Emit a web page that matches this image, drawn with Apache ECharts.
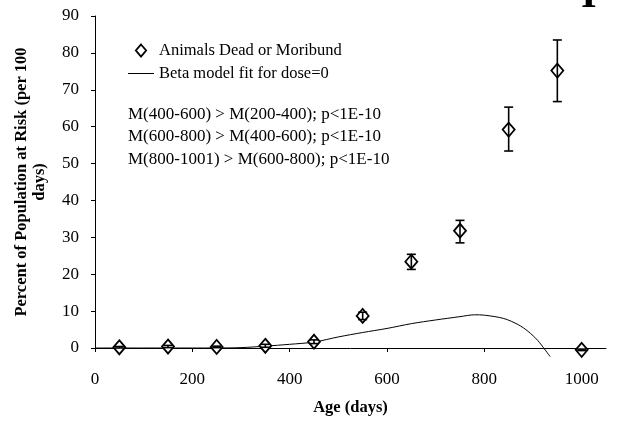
<!DOCTYPE html>
<html>
<head>
  <meta charset="UTF-8">
  <title>Percent of population at risk by age</title>
  <script src="https://cdn.jsdelivr.net/npm/echarts@6/dist/echarts.min.js"></script>
  <style>
    html, body { margin: 0; padding: 0; background: #fff; }
    #chart { width: 617px; height: 421px; }
  </style>
</head>
<body>
  <div id="chart"></div>
  <script>
    // observed points (age mid-point, percent) with error limits
    var ages = [50, 150, 250, 350, 450, 550, 650, 750, 850, 950, 1000];
    var percent = [0.2, 0.4, 0.3, 0.6, 1.7, 8.7, 23.4, 31.8, 59.2, 75.2, -0.5];
    var lower = [0.0, 0.1, 0.1, 0.2, 1.2, 7.7, 21.3, 28.5, 53.4, 66.8, -0.7];
    var upper = [0.4, 0.7, 0.5, 1.0, 2.2, 9.7, 25.4, 34.6, 65.3, 83.5, -0.3];

    // beta model fit for dose=0
    var fitAge = [0, 100, 200, 250, 300, 350, 400, 450, 500, 550, 600, 650, 700, 750, 780, 800, 840, 870, 890, 910, 935];
    var fitVal = [0, 0, 0, 0, 0.1, 0.5, 1.0, 1.6, 3.0, 4.2, 5.3, 6.6, 7.6, 8.5, 9.0, 8.9, 8.0, 6.3, 4.5, 2.0, -2.3];

    var xTicks = [0, 200, 400, 600, 800, 1000];
    var notes = [
      'M(400-600) > M(200-400); p<1E-10',
      'M(600-800) > M(400-600); p<1E-10',
      'M(800-1001) > M(600-800); p<1E-10'
    ];

    var serif = '"Liberation Serif", "DejaVu Serif", serif';
    var chart = echarts.init(document.getElementById('chart'));

    var pts = ages.map(function (a, i) { return [a, percent[i]]; });
    var bars = ages.map(function (a, i) { return [a, lower[i], upper[i]]; });
    var fit = fitAge.map(function (a, i) { return [a, fitVal[i]]; });

    chart.setOption({
      animation: false,
      textStyle: { fontFamily: serif, color: '#000' },
      title: {
        text: notes.join('\n'),
        left: 123, top: 98,
        textStyle: { fontFamily: serif, fontSize: 17, fontWeight: 'normal', color: '#000', lineHeight: 22.5 }
      },
      legend: {
        data: [
          {
            name: 'Animals Dead or Moribund',
            icon: 'path://M6,0L12,7L6,14L0,7Z',
            itemStyle: { color: '#fff', borderColor: '#000', borderWidth: 1.8 }
          },
          {
            name: 'Beta model fit for dose=0',
            icon: 'path://M0,0L26,0L26,1L0,1Z',
            itemStyle: { color: '#000', borderWidth: 0 }
          }
        ],
        orient: 'vertical',
        left: 123, top: 37,
        itemWidth: 26, itemHeight: 12, itemGap: 6,
        symbolKeepAspect: true,
        textStyle: { fontFamily: serif, fontSize: 16.5, color: '#000' }
      },
      grid: { left: 95, right: 11, top: 16, bottom: 73 },
      xAxis: {
        type: 'value', min: 0, max: 1050,
        name: 'Age (days)', nameLocation: 'middle', nameGap: 51,
        nameTextStyle: { fontFamily: serif, fontSize: 16.5, fontWeight: 'bold', color: '#000' },
        axisLine: { lineStyle: { color: '#000', width: 1 } },
        axisTick: { length: 4, customValues: xTicks, lineStyle: { color: '#000' } },
        axisLabel: {
          customValues: xTicks, fontSize: 17, margin: 23, color: '#000', fontFamily: serif,
          formatter: function (v) { return String(v); }
        },
        splitLine: { show: false }
      },
      yAxis: {
        type: 'value', min: 0, max: 90, interval: 10,
        name: 'Percent of Population at Risk (per 100\ndays)',
        nameLocation: 'middle', nameGap: 46, nameRotate: 90,
        nameTextStyle: { fontFamily: serif, fontSize: 16.5, fontWeight: 'bold', color: '#000', lineHeight: 18 },
        axisLine: { show: true, lineStyle: { color: '#000', width: 1 } },
        axisTick: { show: true, length: 4, lineStyle: { color: '#000' } },
        axisLabel: { fontSize: 17, margin: 16, color: '#000', fontFamily: serif },
        splitLine: { show: false }
      },
      graphic: [{
        type: 'text', left: 581, top: -23,
        style: { text: 'I', font: 'bold 40px ' + serif, fill: '#000' }
      }],
      series: [
        {
          name: 'Beta model fit for dose=0',
          type: 'line',
          data: fit,
          clip: false,
          smooth: 0.3,
          showSymbol: false,
          symbol: 'none',
          lineStyle: { color: '#000', width: 1 },
          itemStyle: { color: '#000' },
          z: 2
        },
        {
          name: 'Animals Dead or Moribund',
          type: 'scatter',
          data: pts,
          clip: false,
          symbol: 'diamond',
          symbolSize: [12, 14],
          itemStyle: { color: '#fff', borderColor: '#000', borderWidth: 1.8, opacity: 1 },
          z: 3
        },
        {
          type: 'custom',
          clip: false,
          silent: true,
          data: bars,
          renderItem: function (params, api) {
            var x = api.value(0);
            var lo = api.coord([x, api.value(1)]);
            var hi = api.coord([x, api.value(2)]);
            var w = 4.5;
            var style = { stroke: '#000', lineWidth: 1.6 };
            return {
              type: 'group',
              children: [
                { type: 'line', shape: { x1: lo[0], y1: lo[1], x2: hi[0], y2: hi[1] }, style: style },
                { type: 'line', shape: { x1: lo[0] - w, y1: lo[1], x2: lo[0] + w, y2: lo[1] }, style: style },
                { type: 'line', shape: { x1: hi[0] - w, y1: hi[1], x2: hi[0] + w, y2: hi[1] }, style: style }
              ]
            };
          },
          z: 4
        }
      ]
    });
  </script>
</body>
</html>
